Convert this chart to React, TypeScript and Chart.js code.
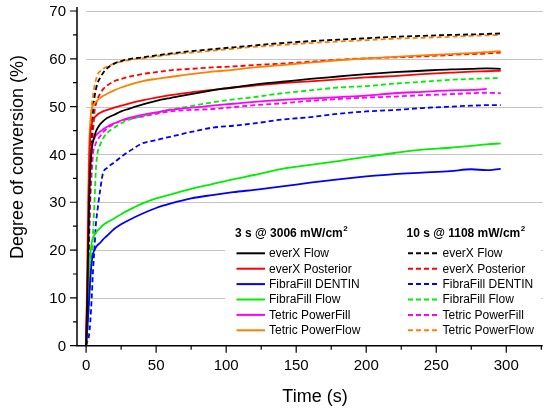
import { useEffect, useRef } from "react";
import { Chart, registerables } from "chart.js";

Chart.register(...registerables);

// time axis (s), shared by all curves
const times = [0, 1, 2, 3, 4, 5, 6, 7, 8, 10, 12, 15, 20, 25, 30, 40, 50, 60, 75, 90, 105, 120, 140, 160, 180, 200, 220, 240, 260, 275, 286, 296];

// 3 s @ 3006 mW/cm2
const everXFlow3 = [0, 12, 28, 37, 41, 42.8, 43.8, 44.8, 45.4, 46.3, 46.9, 47.6, 48.3, 49, 49.5, 50.4, 51.2, 51.8, 52.6, 53.4, 54, 54.6, 55.2, 55.8, 56.3, 56.8, 57.2, 57.5, 57.8, 57.9, 58, 57.9];
const everXPost3 = [0, 15, 35, 44, 46.3, 47.2, 47.7, 48, 48.3, 48.7, 49, 49.3, 49.8, 50.2, 50.6, 51.3, 51.9, 52.4, 53, 53.5, 54, 54.4, 54.9, 55.3, 55.7, 56.1, 56.4, 56.8, 57.1, 57.3, 57.4, 57.5];
const fibraDentin3 = [0, 4, 9, 14, 17.5, 19.3, 20, 20.6, 21, 21.5, 22.2, 23, 24.4, 25.4, 26.2, 27.6, 28.8, 29.7, 30.8, 31.5, 32.1, 32.6, 33.3, 34.1, 34.8, 35.4, 35.9, 36.2, 36.5, 36.9, 36.7, 37];
const fibraFlow3 = [0, 8, 15, 19, 21.5, 22.6, 23.2, 23.6, 24, 24.6, 25.2, 25.8, 26.6, 27.5, 28.3, 29.7, 30.8, 31.6, 32.8, 33.8, 34.8, 35.7, 37, 37.8, 38.6, 39.5, 40.3, 41, 41.4, 41.8, 42.1, 42.3];
const powerFill3 = [0, 14, 32, 40, 42, 42.8, 43.4, 44, 44.3, 44.8, 45.2, 45.8, 46.5, 47.1, 47.6, 48.3, 48.8, 49.3, 49.8, 50.2, 50.6, 51, 51.4, 51.7, 52, 52.3, 52.8, 53.1, 53.4, 53.5, 53.7, null];
const powerFlow3 = [0, 22, 40, 47, 49.5, 50.2, 50.7, 51, 51.3, 51.8, 52.2, 52.7, 53.4, 54, 54.5, 55.3, 55.8, 56.2, 56.8, 57.3, 57.7, 58.2, 58.7, 59.2, 59.7, 60.1, 60.4, 60.7, 61, 61.2, 61.4, 61.6];

// 10 s @ 1108 mW/cm2
const everXFlow10 = [0, 8, 25, 38, 45, 49.4, 52, 53.6, 54.8, 56, 57, 58, 59, 59.5, 59.9, 60.3, 60.7, 61.1, 61.6, 62, 62.4, 62.8, 63.3, 63.7, 64, 64.3, 64.6, 64.8, 65, 65.1, 65.2, 65.3];
const everXPost10 = [0, 8, 22, 33, 41, 45, 49, 50.5, 51.5, 52.7, 53.6, 54.4, 55.3, 55.8, 56.2, 56.8, 57.2, 57.6, 57.9, 58.2, 58.4, 58.7, 59, 59.4, 59.8, 60.1, 60.3, 60.5, 60.8, 61, 61.1, 61.3];
const fibraDentin10 = [0, 1, 2, 5, 10, 16, 20.5, 25.5, 28, 32.5, 36, 37.2, 38.3, 39.5, 40.5, 42.3, 43, 43.7, 44.7, 45.6, 46, 46.5, 47.3, 47.8, 48.5, 49, 49.3, 49.7, 50, 50.2, 50.3, 50.3];
const fibraFlow10 = [0, 3, 8, 13, 18, 24, 30, 37, 40, 42, 43.3, 44.5, 45.6, 46.5, 47.2, 48, 48.7, 49.4, 50.1, 50.9, 51.5, 52, 52.8, 53.4, 54, 54.3, 54.8, 55.2, 55.6, 55.8, 55.9, 56];
const powerFill10 = [0, 8, 20, 30, 36, 40.3, 41.5, 42.4, 43, 43.8, 44.6, 45.4, 46.4, 47, 47.4, 47.9, 48.5, 49, 49.3, 49.5, 49.9, 50.3, 50.7, 51.2, 51.6, 51.9, 52.1, 52.4, 52.6, 52.8, 52.9, 52.8];
const powerFlow10 = [0, 10, 30, 44, 50, 52.5, 54.3, 55.6, 56.6, 57.4, 57.9, 58.4, 59, 59.4, 59.7, 60.1, 60.5, 60.9, 61.3, 61.7, 62.1, 62.5, 62.9, 63.3, 63.6, 63.9, 64.2, 64.4, 64.6, 64.8, 64.9, 65];

const names = ["everX Flow", "everX Posterior", "FibraFill DENTIN", "FibraFill Flow", "Tetric PowerFill", "Tetric PowerFlow"];
const colors = ["#000000", "#ff0000", "#0000ff", "#00ee00", "#ff00ff", "#ff8000"];
const fastSeries = [everXFlow3, everXPost3, fibraDentin3, fibraFlow3, powerFill3, powerFlow3];
const slowSeries = [everXFlow10, everXPost10, fibraDentin10, fibraFlow10, powerFill10, powerFlow10];

const xMajor = [0, 50, 100, 150, 200, 250, 300];
const xMinor = [25, 75, 125, 175, 225, 275, 325];
const yMajor = [0, 10, 20, 30, 40, 50, 60, 70];
const yMinor = [5, 15, 25, 35, 45, 55, 65];

const FONT = '"Liberation Sans", Arial, sans-serif';
const DASH = [5, 3];

const toPoints = (vals: (number | null)[]) => times.map((t, i) => ({ x: t, y: vals[i] }));

// gridlines, axes, ticks and titles
const axesPlugin = {
  id: "originAxes",
  beforeDatasetsDraw(chart: any) {
    const { ctx, chartArea, scales } = chart;
    const xs = scales.x, ys = scales.y;
    ctx.save();
    ctx.strokeStyle = "#c4c4c4";
    ctx.lineWidth = 1;
    const gx0 = xs.getPixelForValue(0);
    yMajor.forEach((v) => {
      if (v === 0) return;
      const y = Math.round(ys.getPixelForValue(v)) + 0.5;
      ctx.beginPath();
      ctx.moveTo(gx0, y);
      ctx.lineTo(chartArea.right, y);
      ctx.stroke();
    });
    ctx.restore();
  },
  afterDatasetsDraw(chart: any) {
    const { ctx, chartArea, scales } = chart;
    const xs = scales.x, ys = scales.y;
    const left = chartArea.left, bottom = chartArea.bottom;
    ctx.save();
    ctx.strokeStyle = "#000";
    ctx.lineWidth = 1.5;
    ctx.beginPath();
    ctx.moveTo(left, chartArea.top - 4);
    ctx.lineTo(left, bottom);
    ctx.lineTo(chartArea.right, bottom);
    ctx.stroke();

    ctx.lineWidth = 1.2;
    ctx.beginPath();
    xMajor.forEach((v) => {
      const x = xs.getPixelForValue(v);
      ctx.moveTo(x, bottom);
      ctx.lineTo(x, bottom + 7);
    });
    xMinor.forEach((v) => {
      const x = xs.getPixelForValue(v);
      ctx.moveTo(x, bottom);
      ctx.lineTo(x, bottom + 4);
    });
    yMajor.forEach((v) => {
      const y = ys.getPixelForValue(v);
      ctx.moveTo(left, y);
      ctx.lineTo(left - 7, y);
    });
    yMinor.forEach((v) => {
      const y = ys.getPixelForValue(v);
      ctx.moveTo(left, y);
      ctx.lineTo(left - 4, y);
    });
    ctx.stroke();

    ctx.fillStyle = "#000";
    ctx.font = `15px ${FONT}`;
    ctx.textAlign = "center";
    ctx.textBaseline = "alphabetic";
    xMajor.forEach((v) => ctx.fillText(String(v), xs.getPixelForValue(v), bottom + 24));
    ctx.textAlign = "right";
    ctx.textBaseline = "middle";
    yMajor.forEach((v) => ctx.fillText(String(v), left - 11, ys.getPixelForValue(v) + 1));

    ctx.font = `18px ${FONT}`;
    ctx.textAlign = "center";
    ctx.textBaseline = "alphabetic";
    ctx.fillText("Time (s)", 315, 402);
    ctx.translate(18, 157);
    ctx.rotate(-Math.PI / 2);
    ctx.textBaseline = "middle";
    ctx.fillText("Degree of conversion (%)", 0, 0);
    ctx.restore();
  },
  afterDraw(chart: any) {
    const { ctx } = chart;
    ctx.save();
    ctx.fillStyle = "#fff";
    ctx.fillRect(225, 212, 316, 128);

    const cols = [
      { title: "3 s @ 3006 mW/cm", tx: 235, lx0: 236.5, lx1: 265, txt: 269, dash: [] as number[] },
      { title: "10 s @ 1108 mW/cm", tx: 406.5, lx0: 408, lx1: 438.5, txt: 442.5, dash: DASH },
    ];
    cols.forEach((c) => {
      ctx.fillStyle = "#000";
      ctx.font = `bold 12px ${FONT}`;
      ctx.textAlign = "left";
      ctx.textBaseline = "alphabetic";
      ctx.fillText(c.title, c.tx, 236.5);
      const w = ctx.measureText(c.title).width;
      ctx.font = `bold 8px ${FONT}`;
      ctx.fillText("2", c.tx + w + 0.5, 231);
      names.forEach((n, i) => {
        const y = 253.3 + i * 15.4;
        ctx.strokeStyle = colors[i];
        ctx.lineWidth = 2;
        ctx.setLineDash(c.dash);
        ctx.beginPath();
        ctx.moveTo(c.lx0, y);
        ctx.lineTo(c.lx1, y);
        ctx.stroke();
        ctx.setLineDash([]);
        ctx.fillStyle = "#000";
        ctx.font = `12px ${FONT}`;
        ctx.textBaseline = "middle";
        ctx.fillText(n, c.txt, y + 0.5);
      });
    });
    ctx.restore();
  },
};

const App = () => {
  const canvasRef = useRef<HTMLCanvasElement>(null);

  useEffect(() => {
    document.body.style.margin = "0";
    if (!canvasRef.current) return;

    const datasets: any[] = [];
    names.forEach((n, i) => {
      datasets.push({
        label: n + " (3 s)",
        data: toPoints(fastSeries[i]),
        borderColor: colors[i],
        borderWidth: 1.8,
        pointRadius: 0,
        cubicInterpolationMode: "monotone",
        spanGaps: false,
      });
    });
    names.forEach((n, i) => {
      datasets.push({
        label: n + " (10 s)",
        data: toPoints(slowSeries[i]),
        borderColor: colors[i],
        borderWidth: 1.8,
        borderDash: DASH,
        pointRadius: 0,
        cubicInterpolationMode: "monotone",
        spanGaps: false,
      });
    });

    const chart = new Chart(canvasRef.current, {
      type: "line",
      data: { datasets },
      options: {
        animation: false,
        responsive: true,
        maintainAspectRatio: false,
        layout: { padding: { left: 77, right: 7.3, top: 11, bottom: 65.3 } },
        scales: {
          x: { type: "linear", min: -6.5, max: 326, display: false },
          y: { type: "linear", min: 0, max: 70, display: false },
        },
        plugins: {
          legend: { display: false },
          tooltip: { enabled: false },
        },
      },
      plugins: [axesPlugin],
    });

    return () => {
      chart.destroy();
    };
  }, []);

  return (
    <div style={{ position: "relative", width: "550px", height: "411px", background: "#fff" }}>
      <canvas ref={canvasRef}></canvas>
    </div>
  );
};

export default App;
